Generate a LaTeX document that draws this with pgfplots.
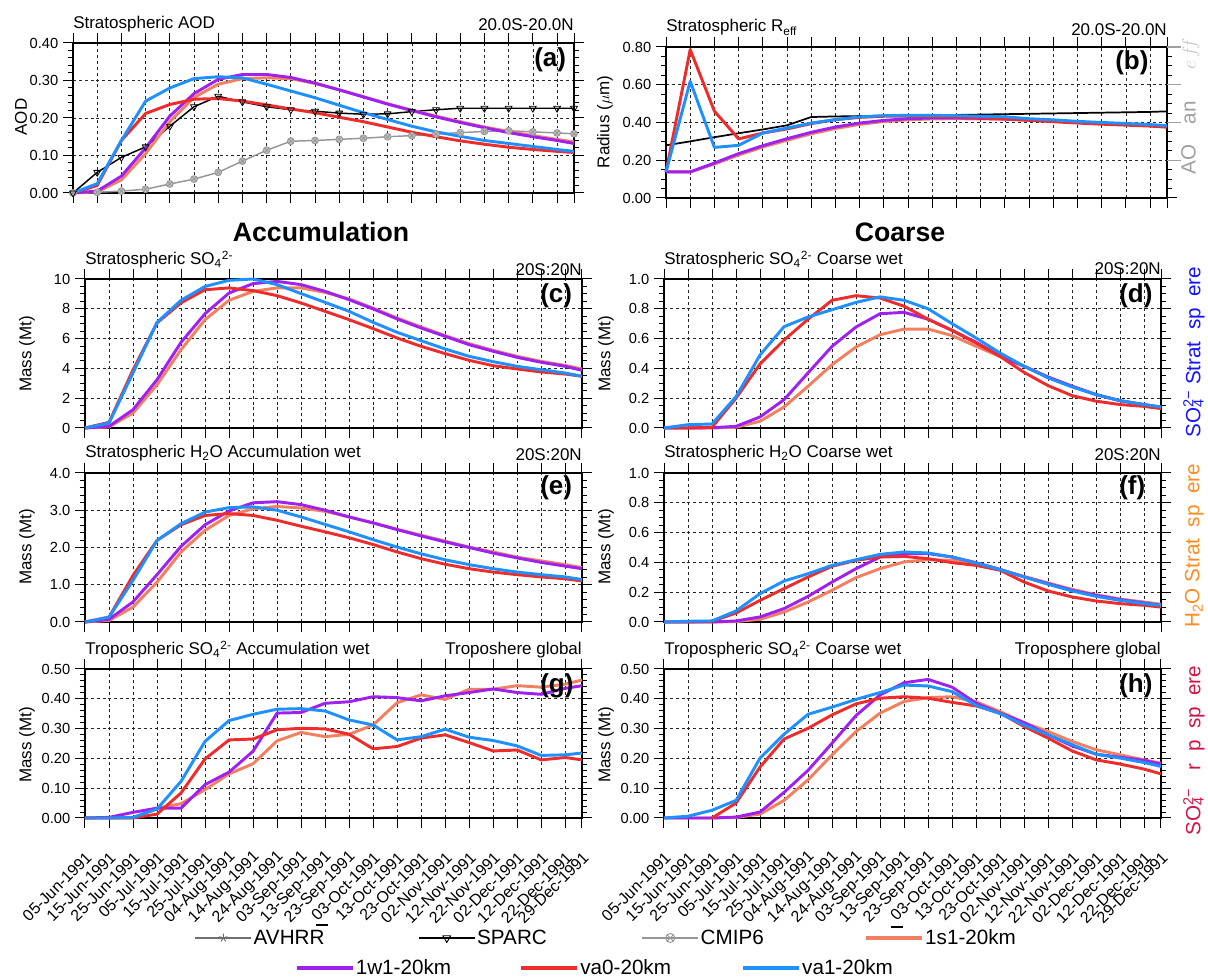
\documentclass[border=0pt]{standalone}
\usepackage{pgfplots}
\pgfplotsset{compat=1.18}
\usepackage{pgfplotstable}
\usepackage{fontspec}
\setmainfont{Liberation Sans}
\usetikzlibrary{plotmarks}
\definecolor{cP}{RGB}{160,32,240}
\definecolor{cR}{RGB}{238,44,44}
\definecolor{cB}{RGB}{30,144,255}
\definecolor{cS}{RGB}{242,128,96}
\definecolor{cG}{RGB}{150,150,150}
\definecolor{cAV}{RGB}{110,110,110}
\definecolor{lbB}{RGB}{20,20,255}
\definecolor{lbO}{RGB}{255,140,30}
\definecolor{lbC}{RGB}{210,20,70}
\definecolor{lbG}{RGB}{160,160,160}
\newcommand\fs[1]{\fontsize{#1pt}{#1pt}\selectfont}
\newcommand\SOf{SO\textsubscript{4}\textsuperscript{2-}}

\pgfplotstableread{
x p r b s sp cm
0 0 0 0 0 0 0
10 0.005 0.02 0.025 0.003 0.055 0.002
20 0.045 0.14 0.14 0.035 0.095 0.005
30 0.12 0.212 0.245 0.105 0.123 0.01
40 0.205 0.236 0.28 0.19 0.178 0.024
50 0.265 0.25 0.305 0.255 0.23 0.037
60 0.303 0.252 0.31 0.29 0.258 0.055
70 0.316 0.245 0.307 0.305 0.243 0.085
80 0.316 0.235 0.29 0.307 0.23 0.114
90 0.308 0.224 0.272 0.305 0.222 0.138
100 0.293 0.214 0.254 0.292 0.218 0.14
110 0.275 0.202 0.234 0.275 0.213 0.143
120 0.256 0.19 0.214 0.257 0.21 0.146
130 0.237 0.176 0.196 0.238 0.211 0.15
140 0.22 0.162 0.178 0.221 0.217 0.153
150 0.203 0.15 0.163 0.205 0.222 0.157
160 0.188 0.139 0.151 0.19 0.226 0.161
170 0.174 0.13 0.14 0.176 0.226 0.164
180 0.161 0.122 0.132 0.164 0.226 0.166
190 0.15 0.116 0.124 0.153 0.226 0.163
200 0.14 0.111 0.116 0.143 0.226 0.16
207 0.132 0.108 0.111 0.136 0.226 0.158
}\ta
\pgfplotstableread{
x p r b s sp
0 0.138 0.138 0.138 0.138 0.279
10 0.138 0.786 0.618 0.138 0.30
20 0.185 0.46 0.268 0.18 0.322
30 0.235 0.313 0.279 0.228 0.343
40 0.277 0.344 0.344 0.27 0.363
50 0.314 0.366 0.371 0.306 0.385
60 0.348 0.394 0.397 0.34 0.429
70 0.376 0.415 0.415 0.368 0.432
80 0.397 0.427 0.43 0.39 0.434
90 0.411 0.433 0.436 0.405 0.436
100 0.42 0.433 0.438 0.414 0.437
110 0.424 0.432 0.438 0.419 0.439
120 0.424 0.43 0.436 0.42 0.44
130 0.422 0.425 0.433 0.419 0.442
140 0.419 0.419 0.43 0.417 0.444
150 0.413 0.412 0.42 0.412 0.446
160 0.408 0.404 0.414 0.407 0.448
170 0.401 0.397 0.406 0.4 0.45
180 0.395 0.391 0.4 0.394 0.452
190 0.39 0.386 0.395 0.389 0.454
200 0.384 0.381 0.389 0.384 0.456
207 0.379 0.375 0.383 0.379 0.459
}\tb
\pgfplotstableread{
x p r b s
0 0 0 0 0
10 0.11 0.38 0.33 0.07
20 1.23 3.9 3.7 1.0
30 3.24 7.05 7.09 2.9
40 5.75 8.4 8.57 5.26
50 7.67 9.28 9.5 7.27
60 9.06 9.4 9.91 8.57
70 9.69 9.22 10.0 9.17
80 9.84 8.88 9.62 9.4
90 9.62 8.39 9.02 9.4
100 9.17 7.83 8.43 9.1
110 8.61 7.27 7.83 8.66
120 7.99 6.67 7.09 8.05
130 7.32 6.04 6.42 7.38
140 6.71 5.48 5.86 6.78
150 6.15 4.99 5.3 6.2
160 5.59 4.54 4.81 5.66
170 5.15 4.18 4.45 5.21
180 4.74 3.96 4.14 4.81
190 4.41 3.76 3.91 4.47
200 4.14 3.62 3.69 4.2
207 3.87 3.47 3.47 3.96
}\tc
\pgfplotstableread{
x p r b s
0 0 0 0 0
10 0 0 0.022 0
20 0.002 0.005 0.027 0
30 0.011 0.2 0.21 0.005
40 0.074 0.43 0.49 0.045
50 0.19 0.59 0.68 0.141
60 0.37 0.73 0.745 0.28
70 0.548 0.857 0.794 0.425
80 0.678 0.888 0.843 0.544
90 0.767 0.872 0.88 0.626
100 0.776 0.817 0.857 0.664
110 0.73 0.73 0.8 0.664
120 0.655 0.655 0.7 0.62
130 0.575 0.57 0.604 0.548
140 0.485 0.48 0.503 0.48
150 0.414 0.373 0.414 0.414
160 0.342 0.284 0.336 0.34
170 0.28 0.217 0.275 0.28
180 0.224 0.18 0.224 0.224
190 0.183 0.157 0.183 0.183
200 0.157 0.145 0.157 0.157
207 0.139 0.13 0.141 0.141
}\td
\pgfplotstableread{
x p r b s
0 0 0 0 0
10 0.07 0.13 0.13 0.04
20 0.54 1.25 1.12 0.4
30 1.27 2.19 2.19 1.07
40 2.03 2.61 2.64 1.88
50 2.61 2.86 2.95 2.46
60 2.98 2.91 3.07 2.86
70 3.2 2.86 3.09 3.04
80 3.23 2.73 3.0 3.1
90 3.15 2.57 2.82 3.06
100 3.0 2.42 2.62 2.97
110 2.82 2.26 2.42 2.82
120 2.66 2.08 2.21 2.66
130 2.48 1.88 2.01 2.49
140 2.31 1.7 1.83 2.33
150 2.15 1.55 1.67 2.17
160 2.0 1.43 1.54 2.01
170 1.85 1.34 1.43 1.88
180 1.72 1.27 1.34 1.74
190 1.6 1.21 1.27 1.64
200 1.5 1.16 1.21 1.54
207 1.43 1.1 1.14 1.46
}\te
\pgfplotstableread{
x p r b s
0 0 0 0 0
10 0 0 0.005 0
20 0 0.005 0.007 0
30 0.007 0.06 0.074 0.003
40 0.034 0.145 0.19 0.018
50 0.09 0.224 0.275 0.067
60 0.172 0.302 0.324 0.134
70 0.268 0.374 0.38 0.213
80 0.358 0.414 0.418 0.298
90 0.436 0.436 0.454 0.358
100 0.459 0.44 0.47 0.403
110 0.459 0.425 0.463 0.418
120 0.436 0.398 0.436 0.414
130 0.398 0.38 0.396 0.392
140 0.353 0.347 0.351 0.351
150 0.302 0.268 0.302 0.306
160 0.257 0.208 0.253 0.262
170 0.213 0.168 0.208 0.219
180 0.179 0.141 0.172 0.183
190 0.15 0.123 0.145 0.154
200 0.128 0.112 0.123 0.134
207 0.112 0.1 0.112 0.119
}\tf
\pgfplotstableread{
x p r b s
0 0 0 0 0
10 0.002 0 0 0
20 0.019 0 0.002 0
30 0.033 0.013 0.03 0.033
40 0.033 0.084 0.123 0.048
50 0.112 0.198 0.257 0.095
60 0.154 0.262 0.327 0.148
70 0.224 0.265 0.348 0.182
80 0.352 0.296 0.365 0.259
90 0.354 0.301 0.367 0.287
100 0.385 0.299 0.359 0.273
110 0.39 0.281 0.329 0.281
120 0.407 0.232 0.312 0.312
130 0.404 0.24 0.262 0.387
140 0.393 0.268 0.273 0.413
150 0.41 0.279 0.298 0.398
160 0.421 0.253 0.271 0.432
170 0.433 0.225 0.26 0.432
180 0.421 0.228 0.242 0.444
190 0.415 0.195 0.21 0.439
200 0.435 0.203 0.212 0.449
207 0.444 0.195 0.218 0.463
}\tg
\pgfplotstableread{
x p r b s
0 0 nan 0 0
10 0 nan 0.006 0
20 0 0 0.026 0
30 0.003 0.05 0.059 0.002
40 0.02 0.171 0.201 0.013
50 0.086 0.265 0.281 0.059
60 0.16 0.301 0.348 0.128
70 0.251 0.346 0.372 0.212
80 0.344 0.383 0.398 0.29
90 0.413 0.402 0.421 0.352
100 0.454 0.407 0.446 0.391
110 0.465 0.402 0.443 0.404
120 0.439 0.388 0.424 0.407
130 0.385 0.376 0.378 0.39
140 0.352 0.352 0.35 0.357
150 0.32 0.307 0.312 0.32
160 0.279 0.268 0.279 0.29
170 0.242 0.225 0.246 0.257
180 0.214 0.195 0.214 0.229
190 0.204 0.181 0.201 0.212
200 0.193 0.164 0.186 0.195
207 0.181 0.148 0.173 0.184
}\th

\pgfplotsset{
  base/.style={scale only axis, anchor=south west, xmin=0, xmax=207, ymin=0,
    xtick={0,10,...,200,207}, xticklabels={},
    tick align=outside, major tick length=7.5pt, minor tick length=3.75pt,
    every tick/.style={black, line width=0.75pt},
    axis line style={black, line width=1pt},
    xmajorgrids, ymajorgrids,
    major grid style={black!85, line width=0.5pt, dash pattern=on 2.2pt off 2.2pt},
    tick label style={font=\fs{11}},
    /pgf/number format/assume math mode=true,
    clip=false,
    every axis plot/.append style={line width=2.2pt, line join=round},
  },
  two/.style={yticklabel style={/pgf/number format/.cd,fixed,fixed zerofill,precision=2}},
  one/.style={yticklabel style={/pgf/number format/.cd,fixed,fixed zerofill,precision=1}},
  dates/.style={xticklabels={05-Jun-1991,15-Jun-1991,25-Jun-1991,05-Jul-1991,15-Jul-1991,25-Jul-1991,04-Aug-1991,14-Aug-1991,24-Aug-1991,03-Sep-1991,13-Sep-1991,23-Sep-1991,03-Oct-1991,13-Oct-1991,23-Oct-1991,02-Nov-1991,12-Nov-1991,22-Nov-1991,02-Dec-1991,12-Dec-1991,22-Dec-1991,29-Dec-1991},
    xticklabel style={rotate=45, anchor=east, inner sep=0pt, xshift=-4.2pt, yshift=-8.5pt, font=\fs{12}},
    xticklabel shift=11pt},
  lP/.style={cP}, lR/.style={cR}, lB/.style={cB}, lS/.style={cS},
  lSP/.style={black, line width=1.1pt, mark=triangle, mark size=3pt, mark options={rotate=180, fill=white, solid, line width=0.6pt}},
  lCM/.style={cG, line width=1.1pt, mark=otimes*, mark size=2.6pt, mark options={solid, fill=cG!60, draw=cG, line width=0.6pt}},
}

\begin{document}
\begin{tikzpicture}
\useasboundingbox (0,0) rectangle (906pt,732.75pt);

% (a)
\begin{axis}[base, two, at={(54.75pt,588pt)}, width=375.75pt, height=112.5pt,
  ymax=0.4, ytick={0,0.1,0.2,0.3,0.4}, minor y tick num=4]
\addplot[lCM] table[x=x,y=cm]{\ta};
\addplot[lSP] table[x=x,y=sp]{\ta};
\addplot[lS] table[x=x,y=s]{\ta};
\addplot[lP] table[x=x,y=p]{\ta};
\addplot[lR] table[x=x,y=r]{\ta};
\addplot[lB] table[x=x,y=b]{\ta};
\end{axis}
% (b)
\begin{axis}[base, two, at={(499.5pt,584.25pt)}, width=375.75pt, height=113.25pt,
  ymax=0.8, ytick={0,0.2,0.4,0.6,0.8}, minor y tick num=3]
\addplot[black, line width=1.3pt] table[x=x,y=sp]{\tb};
\addplot[lS] table[x=x,y=s]{\tb};
\addplot[lP] table[x=x,y=p]{\tb};
\addplot[lR] table[x=x,y=r]{\tb};
\addplot[lB] table[x=x,y=b]{\tb};
\end{axis}
% (c)
\begin{axis}[base, at={(63.75pt,411.75pt)}, width=372.75pt, height=111.75pt,
  ymax=10, ytick={0,2,4,6,8,10}, minor y tick num=3]
\addplot[lS] table[x=x,y=s]{\tc};
\addplot[lP] table[x=x,y=p]{\tc};
\addplot[lR] table[x=x,y=r]{\tc};
\addplot[lB] table[x=x,y=b]{\tc};
\end{axis}
% (d)
\begin{axis}[base, one, at={(498pt,411.75pt)}, width=372.75pt, height=111.75pt,
  ymax=1, ytick={0,0.2,0.4,0.6,0.8,1.0}, minor y tick num=3]
\addplot[lS] table[x=x,y=s]{\td};
\addplot[lP] table[x=x,y=p]{\td};
\addplot[lR] table[x=x,y=r]{\td};
\addplot[lB] table[x=x,y=b]{\td};
\end{axis}
% (e)
\begin{axis}[base, one, at={(63.75pt,266.25pt)}, width=372.75pt, height=111.75pt,
  ymax=4, ytick={0,1,2,3,4}, minor y tick num=4]
\addplot[lS] table[x=x,y=s]{\te};
\addplot[lP] table[x=x,y=p]{\te};
\addplot[lR] table[x=x,y=r]{\te};
\addplot[lB] table[x=x,y=b]{\te};
\end{axis}
% (f)
\begin{axis}[base, one, at={(498pt,266.25pt)}, width=372.75pt, height=111.75pt,
  ymax=1, ytick={0,0.2,0.4,0.6,0.8,1.0}, minor y tick num=3]
\addplot[lS] table[x=x,y=s]{\tf};
\addplot[lP] table[x=x,y=p]{\tf};
\addplot[lR] table[x=x,y=r]{\tf};
\addplot[lB] table[x=x,y=b]{\tf};
\end{axis}
% (g)
\begin{axis}[base, two, dates, at={(63.75pt,119.25pt)}, width=372.75pt, height=111.75pt,
  ymax=0.5, ytick={0,0.1,0.2,0.3,0.4,0.5}, minor y tick num=4,
  legend style={at={(0.2193,-0.8054)}, anchor=west, draw=none, fill=none, inner sep=0pt,
    font=\fs{15.5}, nodes={inner sep=1pt}, /tikz/every even column/.append style={column sep=0pt}},
  legend columns=4,
  legend image code/.code={\draw[mark repeat=2,mark phase=2,#1] plot coordinates {(0pt,0pt) (21pt,0pt) (42pt,0pt)};}]
\addlegendimage{cAV, line width=1.6pt, mark=star, mark size=3.2pt, mark options={solid, line width=0.7pt}}
\addlegendimage{black, line width=1.6pt, mark=triangle, mark size=3.4pt, mark options={rotate=180, fill=white, solid, line width=0.7pt}}
\addlegendimage{cG, line width=1.6pt, mark=otimes, mark size=3.4pt, mark options={solid, line width=0.7pt}}
\addlegendimage{cS, line width=2.4pt}
\addplot[lS] table[x=x,y=s]{\tg};
\addplot[lP] table[x=x,y=p]{\tg};
\addplot[lR] table[x=x,y=r]{\tg};
\addplot[lB] table[x=x,y=b]{\tg};
\legend{\makebox[122pt][l]{AVHRR},\makebox[122pt][l]{SPARC},\makebox[122pt][l]{CMIP6},\makebox[80pt][l]{1s1-20km}}
\end{axis}
% (h)
\begin{axis}[base, two, dates, at={(498pt,119.25pt)}, width=372.75pt, height=111.75pt,
  ymax=0.5, ytick={0,0.1,0.2,0.3,0.4,0.5}, minor y tick num=4,
  legend style={at={(-0.7425,-1.0067)}, anchor=west, draw=none, fill=none, inner sep=0pt,
    font=\fs{15.5}, nodes={inner sep=1pt}, /tikz/every even column/.append style={column sep=0pt}},
  legend columns=3,
  legend image code/.code={\draw[#1] (0pt,0pt) -- (42pt,0pt);}]
\addlegendimage{cP, line width=2.4pt}
\addlegendimage{cR, line width=2.4pt}
\addlegendimage{cB, line width=2.4pt}
\addplot[lS] table[x=x,y=s]{\th};
\addplot[lP] table[x=x,y=p]{\th};
\addplot[lR] table[x=x,y=r]{\th};
\addplot[lB] table[x=x,y=b]{\th};
\legend{\makebox[122pt][l]{1w1-20km},\makebox[120pt][l]{va0-20km},\makebox[80pt][l]{va1-20km}}
\end{axis}

\begin{scope}[x=0.75pt,y=-0.75pt,shift={(0pt,732.75pt)}]
\tikzset{tl/.style={anchor=base west, inner sep=0pt, font=\fs{12.75}},
         tr/.style={anchor=base east, inner sep=0pt, font=\fs{12.75}},
         pl/.style={anchor=north west, inner sep=0pt, font=\fs{19.5}\bfseries},
         yl/.style={rotate=90, inner sep=0pt, font=\fs{12.75}},
         rl/.style={rotate=90, anchor=west, inner sep=0pt, font=\fs{15.5}}}
% titles
\node[tl] at (73,29) {Stratospheric AOD};
\node[tr] at (574,31) {20.0S-20.0N};
\node[tl] at (666,32) {Stratospheric R\textsubscript{eff}};
\node[tr] at (1167,36) {20.0S-20.0N};
\node[tl] at (85,265) {Stratospheric \SOf};
\node[tr] at (582,276) {20S:20N};
\node[tl] at (664,265) {Stratospheric \SOf{} Coarse wet};
\node[tr] at (1161,275) {20S:20N};
\node[tl] at (85,458) {Stratospheric H\textsubscript{2}O Accumulation wet};
\node[tr] at (582,461) {20S:20N};
\node[tl] at (664,458) {Stratospheric H\textsubscript{2}O Coarse wet};
\node[tr] at (1161,461) {20S:20N};
\node[tl] at (85,655) {Tropospheric \SOf{} Accumulation wet};
\node[tr] at (582,655) {Troposhere global};
\node[tl] at (664,655) {Tropospheric \SOf{} Coarse wet};
\node[tr] at (1161,655) {Troposphere global};
% big titles
\node[anchor=base, inner sep=0pt, font=\fs{20}\bfseries] at (321,242) {Accumulation};
\node[anchor=base, inner sep=0pt, font=\fs{20}\bfseries] at (900,242) {Coarse};
% panel letters
\node[pl] at (534,47) {(a)};
\node[pl] at (1115,50) {(b)};
\node[pl] at (540,283) {(c)};
\node[pl] at (1119,283) {(d)};
\node[pl] at (540,475) {(e)};
\node[pl] at (1119,475) {(f)};
\node[pl] at (540,673) {(g)};
\node[pl] at (1119,673) {(h)};
% y labels
\node[yl] at (21,117) {AOD};
\node[yl] at (605,122) {Radius ($\mu$m)};
\node[yl] at (27,354) {Mass (Mt)};
\node[yl] at (27,547) {Mass (Mt)};
\node[yl] at (27,745) {Mass (Mt)};
\node[yl] at (606,354) {Mass (Mt)};
\node[yl] at (606,547) {Mass (Mt)};
\node[yl] at (606,745) {Mass (Mt)};
% right side labels
\node[rl, text=lbG] at (1190,175) {AO\phantom{D} an\phantom{d} \phantom{R}{\color{lbG!60}$e\,f\!f$}};
\node[rl, text=lbB] at (1194,438) {SO\rlap{\textsubscript{4}}\textsuperscript{2−} Strat\phantom{o}sp\phantom{h}ere};
\node[rl, text=lbO] at (1194,628) {H\textsubscript{2}O Strat\phantom{o}sp\phantom{h}ere};
\node[rl, text=lbC] at (1194,836) {SO\rlap{\textsubscript{4}}\textsuperscript{2−} \phantom{T}r\phantom{o}p\phantom{o}sp\phantom{h}ere};
% grey second-axis remnants on the right of (b)
\draw[lbG, line width=0.8pt] (1167,47)--(1181,47) (1167,84.75)--(1181,84.75) (1167,122.5)--(1181,122.5) (1167,160.25)--(1181,160.25);
% small stray marks seen in the legend area
\node[inner sep=0pt] at (322,925) {\rule{9pt}{0.9pt}};
\node[inner sep=0pt] at (897,927) {\rule{9pt}{0.9pt}};
\end{scope}
\end{tikzpicture}
\end{document}
